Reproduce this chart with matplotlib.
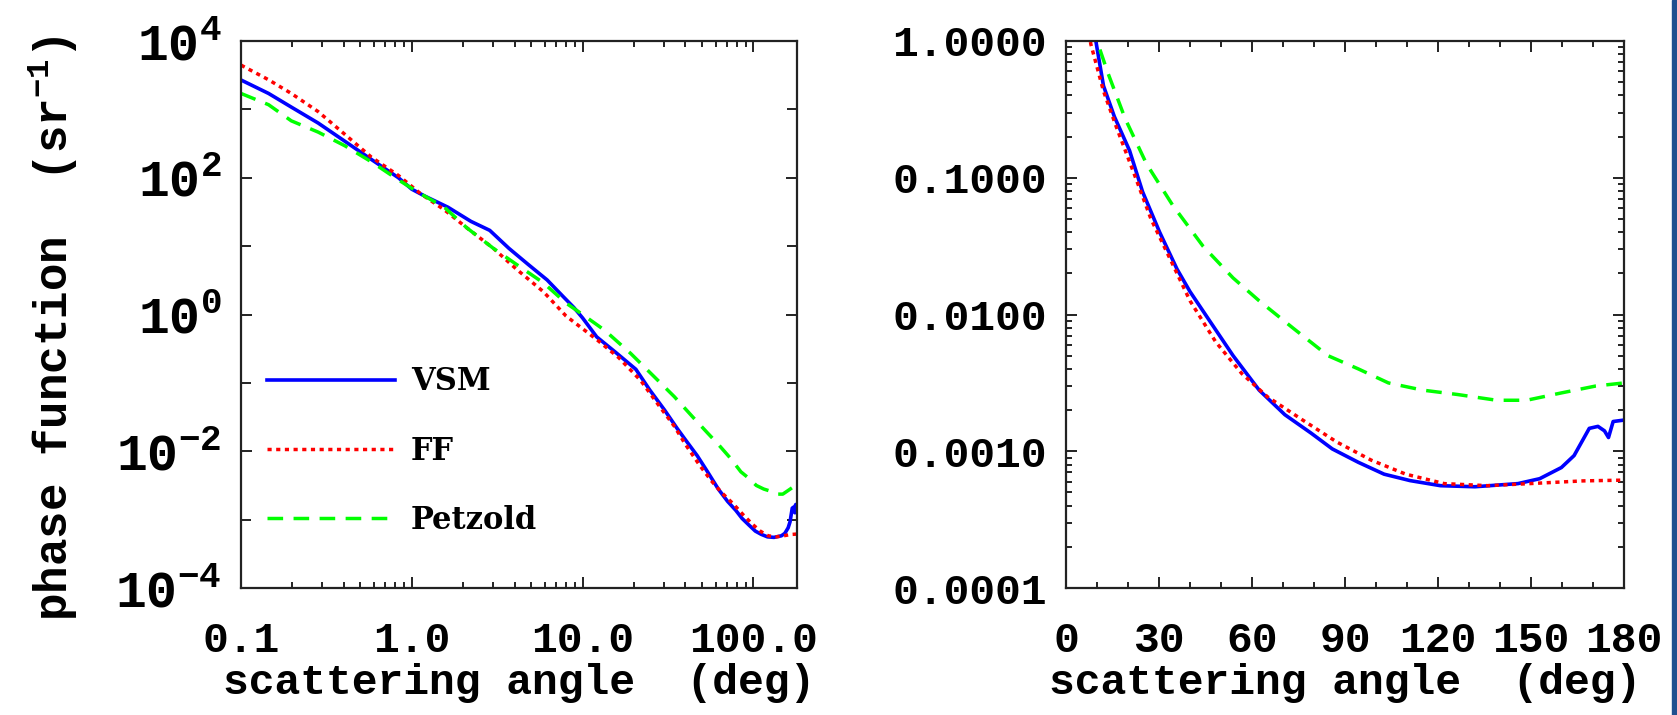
import matplotlib
matplotlib.use("Agg")
import matplotlib.pyplot as plt
from matplotlib.ticker import FixedLocator, MultipleLocator, LogLocator, NullFormatter
from matplotlib.patches import Rectangle

# phase function curves (angle in deg, value in sr^-1)
vsm_angle = [0.1, 0.145, 0.197, 0.283, 0.406, 0.58, 0.835, 1.0, 1.19, 1.63, 2.22, 2.86,
             3.7, 4.8, 6.2, 7.66, 8.9, 10.0, 12.1, 15.6, 20.5, 24.7, 30.2, 35.8, 40.0,
             46.9, 53.9, 62.3, 70.6, 79.0, 85.9, 94.3, 102.6, 111.0, 120.8, 131.9, 145.8,
             152.8, 159.8, 163.9, 168.8, 171.6, 173.7, 175.0, 176.5, 180.0]
vsm_phase = [2690, 1710, 1080, 631, 341, 185, 100, 68, 54, 37, 23, 17,
             9.3, 5.4, 3.2, 1.85, 1.26, 0.89, 0.47, 0.28, 0.158, 0.079, 0.040, 0.0215, 0.0147,
             0.0086, 0.0050, 0.0028, 0.00185, 0.00136, 0.00104, 0.00083, 0.00068, 0.00061,
             0.00056, 0.00055, 0.00058, 0.00063, 0.00076, 0.00093, 0.00147, 0.00152,
             0.00141, 0.00126, 0.00165, 0.00169]

ff_angle = [0.1, 0.145, 0.197, 0.283, 0.406, 0.58, 0.835, 1.13, 1.55, 2.1, 3.0, 4.1,
            5.9, 8.0, 12.1, 16.3, 21.9, 27.4, 34.4, 40.0, 48.3, 56.7, 65.0, 76.2, 87.3,
            98.5, 109.6, 122.0, 136.0, 152.8, 166.7, 180.0]
ff_phase = [4440, 2710, 1710, 927, 430, 200, 108, 58, 34, 18.5, 9.3, 4.6,
            2.15, 0.95, 0.43, 0.233, 0.108, 0.050, 0.0233, 0.0126, 0.0063, 0.0037, 0.0025,
            0.0017, 0.00117, 0.00086, 0.00068, 0.00058, 0.00056, 0.000585, 0.000607, 0.000615]

petz_angle = [0.1, 0.145, 0.197, 0.283, 0.406, 0.58, 0.835, 1.13, 1.55, 2.1, 3.0, 4.1,
              5.9, 8.0, 10.0, 13.5, 19.1, 26.0, 34.4, 44.2, 53.9, 62.3, 73.4, 84.5, 94.3,
              104.0, 115.0, 126.3, 138.9, 148.6, 159.8, 170.9, 180.0]
petz_phase = [1710, 1170, 680, 465, 293, 171, 93, 58, 37, 18.5, 9.3, 5.4,
              2.9, 1.47, 1.0, 0.585, 0.27, 0.126, 0.063, 0.0316, 0.0185, 0.0126, 0.0079,
              0.0050, 0.0040, 0.00316, 0.0028, 0.0026, 0.00236, 0.00236, 0.00267, 0.0030, 0.00316]

series_names = ["VSM", "FF", "Petzold"]

left_xticks = [0.1, 1.0, 10.0, 100.0]
left_xlabels = ["0.1", "1.0", "10.0", "100.0"]
left_yticks = [1e-4, 1e-2, 1e0, 1e2, 1e4]
left_ylabels = [r"$10^{-4}$", r"$10^{-2}$", r"$10^{0}$", r"$10^{2}$", r"$10^{4}$"]
left_yminor = [1e-3, 1e-1, 1e1, 1e3]
right_yticks = [1e-4, 1e-3, 1e-2, 1e-1, 1e0]
right_ylabels = ["0.0001", "0.0010", "0.0100", "0.1000", "1.0000"]

plt.rcParams['font.family'] = ['Liberation Mono', 'DejaVu Sans Mono']
plt.rcParams['font.weight'] = 'bold'
plt.rcParams['axes.labelweight'] = 'bold'
plt.rcParams['mathtext.fontset'] = 'custom'
plt.rcParams['mathtext.rm'] = 'Liberation Mono:bold'
plt.rcParams['mathtext.it'] = 'Liberation Mono:bold'
plt.rcParams['mathtext.bf'] = 'Liberation Mono:bold'

FS = 31
fig = plt.figure(figsize=(16.77, 7.15), dpi=100)
ax1 = fig.add_axes([241/1677, 1 - 588/715, 556/1677, 547/715])
ax2 = fig.add_axes([1066/1677, 1 - 588/715, 558/1677, 547/715])

styles = [dict(color="#0000ff", lw=2.6, ls="-"),
          dict(color="#ff0000", lw=2.5, ls=(0, (1.2, 1.3))),
          dict(color="#00ff00", lw=2.5, ls=(0, (4.5, 3.0)))]
data = [(vsm_angle, vsm_phase), (ff_angle, ff_phase), (petz_angle, petz_phase)]

for ax in (ax1, ax2):
    for (a, p), st, name in zip(data, styles, series_names):
        ax.plot(a, p, label=name, **st)
    ax.set_yscale("log")
    for s in ax.spines.values():
        s.set_linewidth(1.6)
        s.set_color("#222222")
    ax.tick_params(which="both", direction="in", top=True, right=True, width=1.4,
                   colors="#222222", labelcolor="black", labelsize=FS)
    ax.tick_params(which="major", length=8)
    ax.tick_params(which="minor", length=4)
    ax.tick_params(axis="x", pad=24)
    ax.tick_params(axis="y", pad=14)
    ax.set_xlabel("scattering angle  (deg)", fontsize=FS)
    ax.xaxis.set_label_coords(0.5, -0.138)

# left panel: log-log
ax1.set_xscale("log")
ax1.set_xlim(0.1, 180)
ax1.set_ylim(1e-4, 1e4)
ax1.xaxis.set_major_locator(FixedLocator(left_xticks))
ax1.set_xticklabels(left_xlabels)
ax1.xaxis.set_minor_locator(LogLocator(base=10, subs=range(2, 10)))
ax1.xaxis.set_minor_formatter(NullFormatter())
ax1.yaxis.set_major_locator(FixedLocator(left_yticks))
ax1.set_yticklabels(left_ylabels, fontsize=37)
ax1.yaxis.set_minor_locator(FixedLocator(left_yminor))
ax1.yaxis.set_minor_formatter(NullFormatter())
ax1.tick_params(axis="y", which="minor", length=7)
ax1.set_ylabel(r"phase function  (sr$^{-1}$)", fontsize=33)
ax1.yaxis.set_label_coords(-0.29, 0.475)

leg = ax1.legend(loc="upper left", bbox_to_anchor=(0.047, 0.405), frameon=False,
                 borderpad=0, borderaxespad=0, handlelength=4.2, handletextpad=0.5,
                 labelspacing=1.25, prop=dict(family="DejaVu Serif", weight="bold", size=22))

# right panel: linear angle, log phase
ax2.set_xlim(0, 180)
ax2.set_ylim(1e-4, 1)
ax2.xaxis.set_major_locator(MultipleLocator(30))
ax2.xaxis.set_minor_locator(MultipleLocator(10))
ax2.yaxis.set_major_locator(FixedLocator(right_yticks))
ax2.set_yticklabels(right_ylabels)
ax2.yaxis.set_minor_locator(LogLocator(base=10, subs=range(2, 10)))
ax2.yaxis.set_minor_formatter(NullFormatter())

# slide background strip on the right edge
fig.patches.append(Rectangle((1672/1677, 0), 5/1677, 1, transform=fig.transFigure,
                             color="#1f4f8f", zorder=0))

fig.savefig("out.png", dpi=100)
